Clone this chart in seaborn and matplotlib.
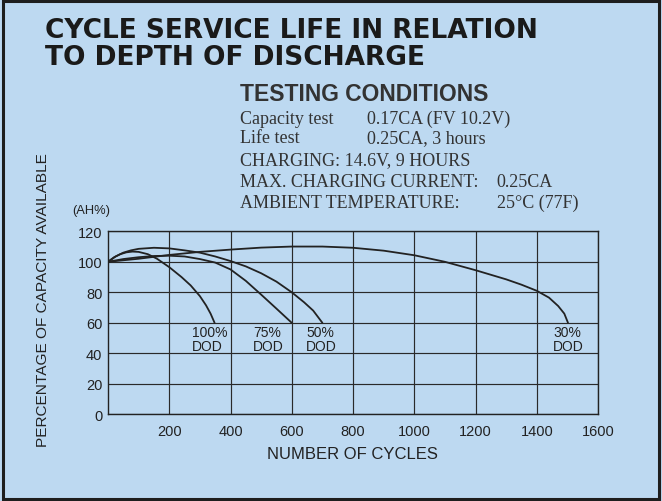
import numpy as np
import pandas as pd
import matplotlib
matplotlib.use("Agg")
import matplotlib.pyplot as plt
from matplotlib.patches import Rectangle
import seaborn as sns

# ---- data ----
dod100_x = [0, 20, 40, 60, 80, 100, 130, 160, 200, 240, 270, 300, 320, 335, 348]
dod100_y = [100, 103, 105, 106.2, 106.7, 106.5, 105, 102, 96.5, 90, 84.5, 77.5, 71.5, 66, 60]

dod75_x = [0, 50, 100, 150, 200, 250, 300, 350, 400, 450, 500, 550, 600]
dod75_y = [100, 101.8, 103, 103.8, 104, 103.5, 101.8, 99.5, 95, 87.5, 78.5, 69.3, 60]

dod50_x = [0, 25, 50, 75, 100, 150, 200, 250, 300, 350, 400, 450, 500, 550, 600, 640, 670, 700]
dod50_y = [100, 103.5, 106, 107.5, 108.5, 109.2, 108.8, 107.5, 106, 103.5, 100.5, 97, 92.5, 87, 80, 73.5, 68, 60]

dod30_x = [0, 50, 100, 200, 300, 400, 500, 600, 700, 800, 900, 1000, 1100, 1200, 1300,
           1350, 1400, 1440, 1470, 1490, 1502]
dod30_y = [100, 101, 102, 104.5, 106.5, 108, 109.3, 110, 110, 109.2, 107.3, 104.3, 100, 94.5, 88.5,
           85, 81, 76.5, 71, 66, 60]

series_names = ["100%", "75%", "50%", "30%"]
label_x = [273, 473, 647, 1453]
label_y = [49.4, 49.4, 49.4, 49.4]

x_ticks = [200, 400, 600, 800, 1000, 1200, 1400, 1600]
y_ticks = [0, 20, 40, 60, 80, 100, 120]

title_lines = ["CYCLE SERVICE LIFE IN RELATION", "TO DEPTH OF DISCHARGE"]
cond_left = ["Capacity test", "Life test", "CHARGING: 14.6V, 9 HOURS",
             "MAX. CHARGING CURRENT:", "AMBIENT TEMPERATURE:"]
cond_right = ["0.17CA (FV 10.2V)", "0.25CA, 3 hours", "", "0.25CA", "25°C (77F)"]

# ---- build table ----
frames = []
for name, xs, ys in zip(series_names, [dod100_x, dod75_x, dod50_x, dod30_x],
                        [dod100_y, dod75_y, dod50_y, dod30_y]):
    frames.append(pd.DataFrame({"cycles": xs, "capacity": ys, "dod": name}))
df = pd.concat(frames, ignore_index=True)

BG = "#bdd9f1"
INK = "#222222"
W, H = 662, 502

sns.set_style("white")
plt.rcParams["font.family"] = ["Liberation Sans", "DejaVu Sans"]

fig = plt.figure(figsize=(W / 100, H / 100), dpi=100, facecolor=BG)
ax = fig.add_axes([108 / W, 1 - 415.3 / H, (598 - 108) / W, (415.3 - 232.3) / H])
ax.set_facecolor(BG)

sns.lineplot(data=df, x="cycles", y="capacity", hue="dod", units="dod", estimator=None,
             sort=False, palette={n: INK for n in series_names}, legend=False,
             linewidth=1.3, ax=ax)

ax.set_xlim(0, 1600)
ax.set_ylim(0, 120)
ax.set_xticks(x_ticks)
ax.set_yticks(y_ticks)
ax.set_xticklabels([str(v) for v in x_ticks])
ax.set_yticklabels([str(v) for v in y_ticks])
ax.tick_params(axis="both", length=0, labelsize=10.5, colors=INK)
ax.tick_params(axis="x", pad=7)
ax.tick_params(axis="y", pad=4)
ax.grid(True, color="#2a2a2a", linewidth=0.85)
for s in ax.spines.values():
    s.set_color(INK)
    s.set_linewidth(1.0)
ax.set_xlabel("")
ax.set_ylabel("")

for name, lx, ly in zip(series_names, label_x, label_y):
    ax.text(lx, ly, name + "\nDOD", fontsize=10, color=INK, ha="left", va="center",
            linespacing=0.95)


def fx(px):
    return px / W


def fy(py):
    return 1 - py / H


# title
TITLE_FAMILY = ["DejaVu Sans"]
fig.text(fx(45), fy(38), title_lines[0], fontsize=19, fontweight="bold",
         family=TITLE_FAMILY, color="#1a1a1a", va="baseline")
fig.text(fx(45), fy(65), title_lines[1], fontsize=19, fontweight="bold",
         family=TITLE_FAMILY, color="#1a1a1a", va="baseline")

# testing conditions
fig.text(fx(240), fy(101), "TESTING CONDITIONS", fontsize=16.5, fontweight="bold",
         color="#333333", va="baseline")
baselines = [124.3, 143.3, 165, 186.7, 208.3]
right_x = [367.3, 367.3, 0, 496.7, 496.7]
for left, right, b, rx in zip(cond_left, cond_right, baselines, right_x):
    fig.text(fx(240), fy(b), left, fontsize=13, family=["Liberation Serif", "DejaVu Serif"],
             color="#333333", va="baseline")
    if right:
        fig.text(fx(rx), fy(b), right, fontsize=13, family=["Liberation Serif", "DejaVu Serif"],
                 color="#333333", va="baseline")

# axis labels
fig.text(fx(91), fy(211), "(AH%)", fontsize=9.3, color=INK, ha="center", va="center")
fig.text(fx(43), fy(300), "PERCENTAGE OF CAPACITY AVAILABLE", fontsize=11.1, color=INK,
         rotation=90, ha="center", va="center")
fig.text(fx(352), fy(455), "NUMBER OF CYCLES", fontsize=12, color=INK,
         ha="center", va="center")

# outer frame
fig.patches.append(Rectangle((3 / W, 2 / H), (W - 6) / W, (H - 4) / H, transform=fig.transFigure,
                             fill=False, edgecolor="#1e1e1e", linewidth=2.2))

fig.savefig("out.png", dpi=100, facecolor=BG)
